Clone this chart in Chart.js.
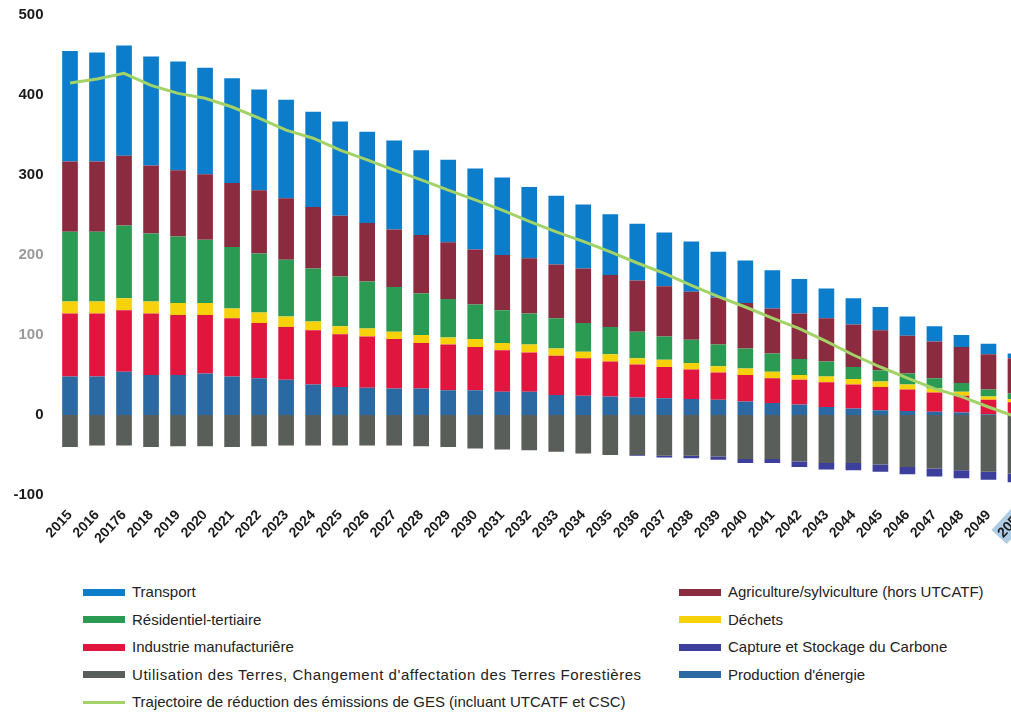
<!DOCTYPE html>
<html>
<head>
<meta charset="utf-8">
<script src="https://cdn.jsdelivr.net/npm/chart.js@4/dist/chart.umd.min.js"></script>
<style>
  body { margin: 0; background: #fff; }
  #wrap { position: relative; width: 1011px; height: 712px; overflow: hidden; background: #fff; }
  #chart { position: absolute; left: 0; top: 0; }
  .leg { position: absolute; height: 0; font: 15px "Liberation Sans", Arial, sans-serif; color: #222; white-space: nowrap; }
  .leg i { position: absolute; left: 0; width: 42px; height: 7px; top: -3.5px; }
  .leg i.thin { height: 3px; top: -1.5px; }
  .leg span { position: absolute; left: 49px; top: -9px; line-height: 18px; }
  .leg span.wide { letter-spacing: 0.55px; }
</style>
</head>
<body>
<div id="wrap">
  <canvas id="chart" width="1029" height="560"></canvas>
  <div id="legend"></div>
</div>
<script>
const years = ['2015', '2016', '20176', '2018', '2019', '2020', '2021', '2022', '2023', '2024',
  '2025', '2026', '2027', '2028', '2029', '2030', '2031', '2032', '2033', '2034',
  '2035', '2036', '2037', '2038', '2039', '2040', '2041', '2042', '2043', '2044',
  '2045', '2046', '2047', '2048', '2049', '2050'];

// emissions par secteur (MtCO2e)
const energie = [48, 48, 54, 50, 50, 52, 48, 46, 44, 38, 35, 34, 33, 33, 31, 31, 29, 29, 25, 24,
  23, 22, 21, 20, 19, 17, 15, 13, 10, 8, 6, 5, 4, 3, 1, 0];
const industrie = [79, 79, 77, 77, 75, 73, 73, 69, 66, 68, 66, 64, 62, 57, 57, 54, 52, 49, 49, 47,
  44, 41, 39, 37, 34, 33, 31, 31, 31, 30, 29, 27, 24, 21, 18, 16];
const dechets = [15, 15, 15, 15, 15, 15, 12, 13, 13, 11, 10, 10, 9, 10, 9, 10, 9, 10, 9, 8,
  9, 8, 9, 8, 8, 8, 8, 6, 7, 7, 7, 6, 5, 5, 4, 4];
const residentiel = [87, 87, 91, 85, 83, 79, 77, 74, 71, 66, 62, 59, 56, 52, 48, 43, 41, 39, 38, 36,
  34, 33, 29, 29, 27, 25, 23, 20, 19, 15, 14, 14, 13, 11, 9, 7];
const agriculture = [88, 88, 87, 85, 83, 82, 80, 79, 77, 77, 76, 73, 72, 73, 71, 69, 69, 69, 67, 68,
  65, 64, 63, 60, 59, 57, 56, 57, 54, 53, 50, 47, 46, 45, 44, 44];
const transport = [138, 136, 138, 136, 136, 133, 131, 126, 123, 119, 118, 114, 111, 106, 103, 101, 97, 89, 86, 80,
  76, 71, 67, 63, 57, 53, 48, 43, 37, 33, 29, 24, 19, 15, 13, 6];
const utcatf = [-40, -38, -38, -40, -39, -39, -40, -39, -38, -38, -38, -38, -38, -39, -40, -42, -43, -44, -46, -48,
  -50, -50, -51, -51, -52, -55, -55, -58, -60, -60, -62, -65, -67, -69, -71, -73];
const csc = [0, 0, 0, 0, 0, 0, 0, 0, 0, 0, 0, 0, 0, 0, 0, 0, 0, 0, 0, 0,
  0, -1, -2, -3, -4, -5, -5, -7, -8, -9, -9, -9, -10, -10, -10, -11];
const trajectoire = [415, 420, 427, 412, 402, 396, 385, 371, 356, 346, 331, 319, 306, 294, 281, 269, 256, 242, 229, 217,
  204, 190, 177, 162, 148, 135, 121, 108, 92, 75, 60, 46, 33, 23, 10, -2];

const yTicks = [-100, 0, 100, 200, 300, 400, 500];

const colors = {
  transport: '#0c7dcb',
  agriculture: '#8b2b3f',
  residentiel: '#2b9a52',
  dechets: '#f7d10a',
  industrie: '#e0163f',
  energie: '#2b69a2',
  utcatf: '#5a5e5a',
  csc: '#3d3f9c',
  trajectoire: '#a3d366'
};

function barSet(label, data, color) {
  return {
    type: 'bar',
    label: label,
    data: data,
    backgroundColor: color,
    borderWidth: 0,
    stack: 'ges',
    order: 1,
    barPercentage: 0.58,
    categoryPercentage: 1
  };
}

const datasets = [
  {
    type: 'line',
    label: 'Trajectoire de réduction des émissions de GES (incluant UTCATF et CSC)',
    data: trajectoire,
    borderColor: colors.trajectoire,
    borderWidth: 3,
    pointRadius: 0,
    tension: 0,
    stack: 'traj',
    order: 0
  },
  barSet("Production d'énergie", energie, colors.energie),
  barSet('Industrie manufacturiêre', industrie, colors.industrie),
  barSet('Déchets', dechets, colors.dechets),
  barSet('Résidentiel-tertiaire', residentiel, colors.residentiel),
  barSet('Agriculture/sylviculture (hors UTCATF)', agriculture, colors.agriculture),
  barSet('Transport', transport, colors.transport),
  barSet("Utilisation des Terres, Changement d'affectation des Terres Forestières", utcatf, colors.utcatf),
  barSet('Capture et Stockage du Carbone', csc, colors.csc)
];

new Chart(document.getElementById('chart'), {
  data: { labels: years, datasets: datasets },
  options: {
    responsive: false,
    animation: false,
    layout: { padding: { top: 15, left: 0, right: 0, bottom: 0 } },
    plugins: {
      legend: { display: false },
      tooltip: { enabled: false }
    },
    scales: {
      x: {
        stacked: true,
        grid: { display: false, drawTicks: false },
        border: { display: false },
        ticks: {
          autoSkip: false,
          minRotation: 47,
          maxRotation: 47,
          padding: 12,
          color: '#1a1a1a',
          font: { family: 'Liberation Sans', size: 14, weight: 'bold' },
          showLabelBackdrop: (ctx) => ctx.index === years.length - 1,
          backdropColor: 'rgba(160,195,222,0.85)',
          backdropPadding: 2
        },
        afterFit: (s) => { s.height = 65; s.paddingLeft = 0; s.paddingRight = 0; }
      },
      y: {
        stacked: true,
        min: yTicks[0],
        max: yTicks[yTicks.length - 1],
        grid: { display: false, drawTicks: false },
        border: { display: false },
        afterBuildTicks: (s) => { s.ticks = yTicks.map(v => ({ value: v })); },
        ticks: {
          padding: 13,
          color: (ctx) => (ctx.tick.value === 100 || ctx.tick.value === 200) ? '#9a9a9a' : '#1a1a1a',
          font: { family: 'Liberation Sans', size: 15, weight: 'bold' }
        },
        afterFit: (s) => { s.width = 56.5; s.paddingTop = 0; s.paddingBottom = 0; }
      }
    }
  }
});

// legende sur deux colonnes
const legendLeft = [
  ['Transport', colors.transport],
  ['Résidentiel-tertiaire', colors.residentiel],
  ['Industrie manufacturiêre', colors.industrie],
  ["Utilisation des Terres, Changement d'affectation des Terres Forestières", colors.utcatf, false, true],
  ['Trajectoire de réduction des émissions de GES (incluant UTCATF et CSC)', colors.trajectoire, true]
];
const legendRight = [
  ['Agriculture/sylviculture (hors UTCATF)', colors.agriculture],
  ['Déchets', colors.dechets],
  ['Capture et Stockage du Carbone', colors.csc],
  ["Production d'énergie", colors.energie]
];

const legendBox = document.getElementById('legend');
function addItems(items, x) {
  items.forEach((it, i) => {
    const el = document.createElement('div');
    el.className = 'leg';
    el.style.left = x + 'px';
    el.style.top = (592 + i * 27.5) + 'px';
    const sw = document.createElement('i');
    sw.style.background = it[1];
    if (it[2]) sw.className = 'thin';
    const tx = document.createElement('span');
    tx.textContent = it[0];
    if (it[3]) tx.className = 'wide';
    el.appendChild(sw);
    el.appendChild(tx);
    legendBox.appendChild(el);
  });
}
addItems(legendLeft, 83);
addItems(legendRight, 679);
</script>
</body>
</html>
